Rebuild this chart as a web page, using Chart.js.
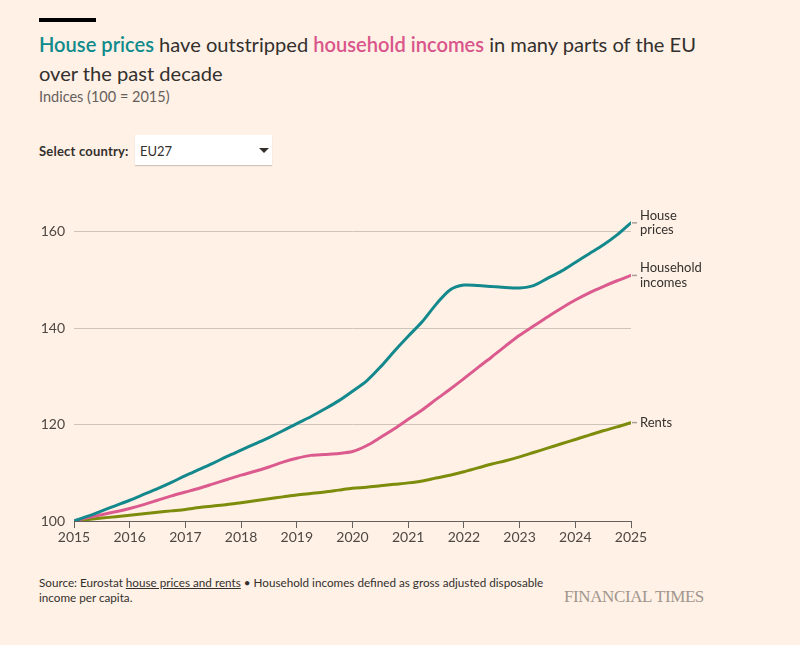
<!DOCTYPE html>
<html>
<head>
<meta charset="utf-8">
<script src="https://cdn.jsdelivr.net/npm/chart.js@4"></script>
<style>
  html, body { margin:0; padding:0; background:#fff1e5; }
  body { width:800px; height:645px; position:relative; overflow:hidden; font-family: Lato, "Open Sans", sans-serif; color:#33302e; }
  .bar { position:absolute; left:39px; top:18px; width:57px; height:4px; background:#000; }
  .title { position:absolute; left:39px; top:30px; width:672px; font-size:20.1px; line-height:29px; color:#33302e; }
  .title .hp { color:#0f8b8d; font-weight:600; }
  .title .hi { color:#d9558b; font-weight:600; }
  .sub { position:absolute; left:39px; top:88px; font-size:14.5px; color:#66605c; }
  .sel-label { position:absolute; left:39px; top:143px; font-size:13px; font-weight:700; color:#33302e; letter-spacing:0.2px; }
  .sel { position:absolute; left:135px; top:135px; width:137px; height:30px; background:#fff; box-shadow:0 1px 1px rgba(0,0,0,0.18); }
  .sel span { position:absolute; left:5px; top:8px; font-size:13px; color:#33302e; }
  .sel i { position:absolute; left:124px; top:13px; width:0; height:0; border-left:5px solid transparent; border-right:5px solid transparent; border-top:5px solid #33302e; }
  #wrap { position:absolute; left:0; top:190px; width:800px; height:370px; }
  .src { position:absolute; left:39px; top:575px; font-size:11.7px; line-height:15px; color:#33302e; width:512px; }
  .src u { text-decoration:underline; }
  .ft { position:absolute; left:564px; top:587px; font-family:"Liberation Serif", "DejaVu Serif", serif; font-size:17px; color:#a0968d; letter-spacing:-0.4px; }
</style>
</head>
<body>
<div class="bar"></div>
<div class="title"><span class="hp">House prices</span> have outstripped <span class="hi">household incomes</span> in many parts of the EU over the past decade</div>
<div class="sub">Indices (100 = 2015)</div>
<div class="sel-label">Select country:</div>
<div class="sel"><span>EU27</span><i></i></div>
<div id="wrap"><canvas id="c" width="800" height="370"></canvas></div>
<div class="src">Source: Eurostat <u>house prices and rents</u> • Household incomes defined as gross adjusted disposable income per capita.</div>
<div class="ft">FINANCIAL TIMES</div>
<script>
const quarters = [2015.00,2015.25,2015.50,2015.75,2016.00,2016.25,2016.50,2016.75,2017.00,2017.25,2017.50,2017.75,2018.00,2018.25,2018.50,2018.75,2019.00,2019.25,2019.50,2019.75,2020.00,2020.25,2020.50,2020.75,2021.00,2021.25,2021.50,2021.75,2022.00,2022.25,2022.50,2022.75,2023.00,2023.25,2023.50,2023.75,2024.00,2024.25,2024.50,2024.75,2025.00];
const housePrices = [100,101.0,102.1,103.2,104.3,105.5,106.7,108.0,109.4,110.7,112.0,113.4,114.7,116.0,117.3,118.7,120.2,121.6,123.2,124.9,126.9,129.0,131.9,135.2,138.3,141.3,144.9,147.9,148.9,148.8,148.6,148.4,148.3,148.8,150.3,151.8,153.6,155.4,157.2,159.3,161.8];
const householdIncomes = [100,100.7,101.3,101.9,102.6,103.4,104.3,105.2,106.0,106.8,107.7,108.6,109.5,110.3,111.2,112.2,113.0,113.6,113.8,114.0,114.4,115.6,117.3,119.1,121.1,123.0,125.2,127.3,129.5,131.8,134.0,136.3,138.5,140.4,142.3,144.1,145.8,147.3,148.6,149.8,150.9];
const rents = [100,100.3,100.6,100.9,101.2,101.5,101.8,102.1,102.4,102.8,103.1,103.4,103.8,104.2,104.6,105.0,105.4,105.7,106.0,106.4,106.8,107.0,107.3,107.6,107.9,108.3,108.9,109.5,110.2,111.0,111.8,112.5,113.3,114.2,115.1,116.0,116.9,117.8,118.7,119.5,120.4];
const yTicks = [100,120,140,160];
const seriesNames = [["House","prices"],["Household","incomes"],["Rents"]];
const colors = ['#14898d','#dc5b8e','#7e8c0c'];

const toPts = arr => arr.map((v,i)=>({x:quarters[i], y:v}));

const endLabels = {
  id:'endLabels',
  afterDatasetsDraw(chart){
    const ctx = chart.ctx, xs = chart.scales.x, ys = chart.scales.y;
    ctx.save();
    chart.data.datasets.forEach((ds, i) => {
      const last = ds.data[ds.data.length-1];
      const px = xs.getPixelForValue(last.x), py = ys.getPixelForValue(last.y);
      ctx.strokeStyle = '#a8a09a'; ctx.lineWidth = 1.5;
      ctx.beginPath(); ctx.moveTo(px+1, py); ctx.lineTo(px+6, py); ctx.stroke();
      const lines = seriesNames[i];
      ctx.fillStyle = '#33302e'; ctx.font = '13px Lato'; ctx.textBaseline = 'middle'; ctx.textAlign='left';
      const lh = 14.5;
      const start = py - (lines.length-1)*lh/2;
      lines.forEach((t,j)=> ctx.fillText(t, px+9, start + j*lh));
    });
    ctx.restore();
  }
};

new Chart(document.getElementById('c'), {
  type:'line',
  data:{
    datasets:[
      {label:'House prices', data:toPts(housePrices), borderColor:colors[0]},
      {label:'Household incomes', data:toPts(householdIncomes), borderColor:colors[1]},
      {label:'Rents', data:toPts(rents), borderColor:colors[2]}
    ].map(d=>Object.assign(d,{borderWidth:3, pointRadius:0, tension:0.3, fill:false, borderCapStyle:'round'}))
  },
  options:{
    responsive:false, animation:false, devicePixelRatio:1,
    layout:{padding:{left:0, top:16.8, right:169, bottom:0}},
    plugins:{legend:{display:false}, tooltip:{enabled:false}},
    scales:{
      x:{type:'linear', min:2015, max:2025,
        afterBuildTicks: s => { s.ticks = quarters.filter(q=>Number.isInteger(q)).map(v=>({value:v})); },
        afterFit: s => { s.height = 39; },
        grid:{drawOnChartArea:false, drawTicks:true, tickLength:7, color:'#66605c', lineWidth:1},
        border:{display:true, color:'#66605c', width:1},
        ticks:{color:'#4e4844', font:{family:'Lato', size:14}, padding:1, maxRotation:0, callback:v=>String(v)}
      },
      y:{type:'linear', min:100, max:165,
        afterBuildTicks: s => { s.ticks = yTicks.map(v=>({value:v})); },
        afterFit: s => { s.width = 74; },
        grid:{drawTicks:false, color:'#cfc4b9', lineWidth:1},
        border:{display:false},
        ticks:{color:'#4e4844', font:{family:'Lato', size:14}, padding:9}
      }
    }
  },
  plugins:[endLabels]
});
</script>
</body>
</html>
